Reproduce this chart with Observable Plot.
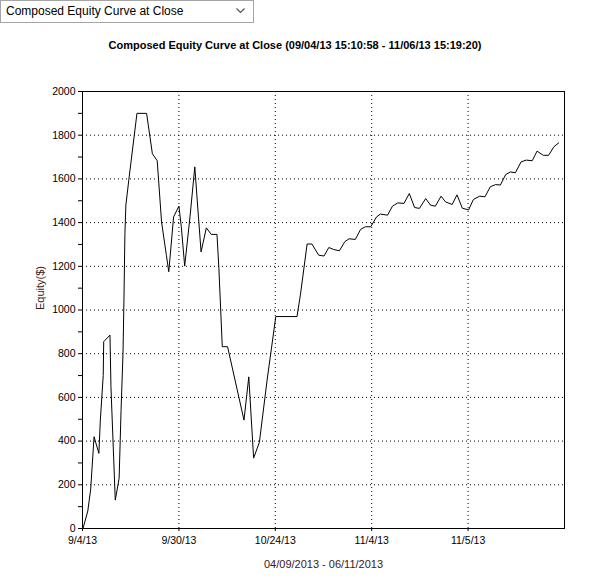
<!DOCTYPE html>
<html><head><meta charset="utf-8">
<script src="https://cdn.jsdelivr.net/npm/d3@7"></script>
<script src="https://cdn.jsdelivr.net/npm/@observablehq/plot@0.6"></script>
<style>
body{margin:0;background:#fff;font-family:"Liberation Sans",Arial,sans-serif;}
#wrap{position:relative;width:599px;height:579px;overflow:hidden;background:#fff}
#combo{position:absolute;left:0;top:0;width:254px;height:23px;border:1px solid #a5a5a5;box-sizing:border-box;background:#fff;font-size:12px;line-height:21px;padding-left:5px;color:#000}
#combo svg{position:absolute;right:8px;top:7px}
#title{position:absolute;left:0;top:39px;width:590px;text-align:center;font-weight:bold;font-size:11px;color:#000}
#chart{position:absolute;left:0;top:0}
</style></head>
<body><div id="wrap">
<div id="chart"></div>
<div id="combo">Composed Equity Curve at Close<svg width="9" height="6"><polyline points="0.5,0.5 4.5,4.5 8.5,0.5" fill="none" stroke="#555" stroke-width="1.2"/></svg></div>
<div id="title">Composed Equity Curve at Close (09/04/13 15:10:58 - 11/06/13 15:19:20)</div>
</div>
<script>
const barIndex = [0.1,1.1,1.7,2.4,3.4,3.7,4.3,4.4,5.7,5.9,6.4,6.8,7.6,8.0,8.4,8.6,8.8,9.0,9.6,11.3,13.3,14.5,15.5,16.4,17.4,17.9,18.9,20.0,20.5,21.2,22.3,23.3,23.8,24.6,25.7,26.7,27.9,28.3,29.0,30.1,33.5,34.5,35.5,36.7,38.3,40.1,44.5,45.2,46.6,47.6,49.0,50.1,51.1,52.1,53.3,54.4,55.3,56.6,57.7,58.7,59.8,61.0,61.8,63.3,64.3,65.4,66.7,67.8,68.9,69.9,71.2,72.2,73.2,74.4,75.3,76.7,77.7,78.8,80.1,81.1,82.4,83.5,84.6,85.7,86.7,87.8,88.8,89.8,91.0,92.1,93.3,94.3,95.6,96.7,97.8,98.8];
const equity = [0,80,180,420,344,496,700,855,885,650,360,130,230,540,800,1045,1350,1480,1594,1900,1900,1715,1683,1403,1251,1175,1426,1475,1381,1201,1426,1655,1503,1266,1376,1346,1346,1190,832,832,496,694,322,395,679,970,970,1068,1302,1302,1251,1247,1286,1277,1271,1312,1326,1323,1369,1381,1381,1426,1439,1434,1475,1490,1488,1533,1469,1465,1510,1480,1475,1521,1495,1483,1527,1466,1458,1506,1521,1518,1564,1574,1572,1620,1632,1628,1678,1686,1683,1727,1708,1708,1747,1765];
const xTicks = [0,20,40,60,80];
const xTickLabels = ["9/4/13","9/30/13","10/24/13","11/4/13","11/5/13"];
const xGrid = [20,40,60,80];
const yTicks = [0,200,400,600,800,1000,1200,1400,1600,1800,2000];
const yMinor = [100,300,500,700,900,1100,1300,1500,1700,1900];
const yGrid = [200,400,600,800,1000,1200,1400,1600,1800];
const yLabel = "Equity($)";
const xLabel = "04/09/2013 - 06/11/2013";

const data = barIndex.map((x,i)=>({x, y: equity[i]}));
const dot = {stroke:"#000", strokeOpacity:1, strokeDasharray:"1,3"};
const chart = Plot.plot({
  width:599, height:579,
  marginLeft:82, marginRight:35, marginTop:91, marginBottom:51,
  style:{fontFamily:"'Liberation Sans',Arial,sans-serif", fontSize:"10.5px", color:"#000", background:"transparent"},
  x:{domain:[0,100], axis:null},
  y:{domain:[0,2000], axis:null},
  marks:[
    Plot.gridY(yGrid, dot),
    Plot.gridX(xGrid, dot),
    Plot.line(data, {x:"x", y:"y", stroke:"#000", strokeWidth:1}),
    Plot.frame({stroke:"#000"}),
    Plot.axisY(yTicks, {anchor:"left", tickSize:4, tickPadding:3, label:null, stroke:"#000", tickFormat:d=>String(d)}),
    Plot.axisY(yMinor, {anchor:"left", tickSize:4, text:null, label:null, stroke:"#000"}),
    Plot.axisX(xTicks, {anchor:"bottom", tickSize:3, tickPadding:5, label:null, tickFormat:(d)=>xTickLabels[xTicks.indexOf(d)], stroke:"#000"}),
    Plot.text([yLabel], {frameAnchor:"left", dx:-42, rotate:-90, text:d=>d, fill:"#3a2018", fontSize:11}),
    Plot.text([xLabel], {frameAnchor:"bottom", dy:39, text:d=>d, fill:"#3a2018", fontSize:11})
  ]
});
document.getElementById("chart").appendChild(chart);
</script>
</body></html>
